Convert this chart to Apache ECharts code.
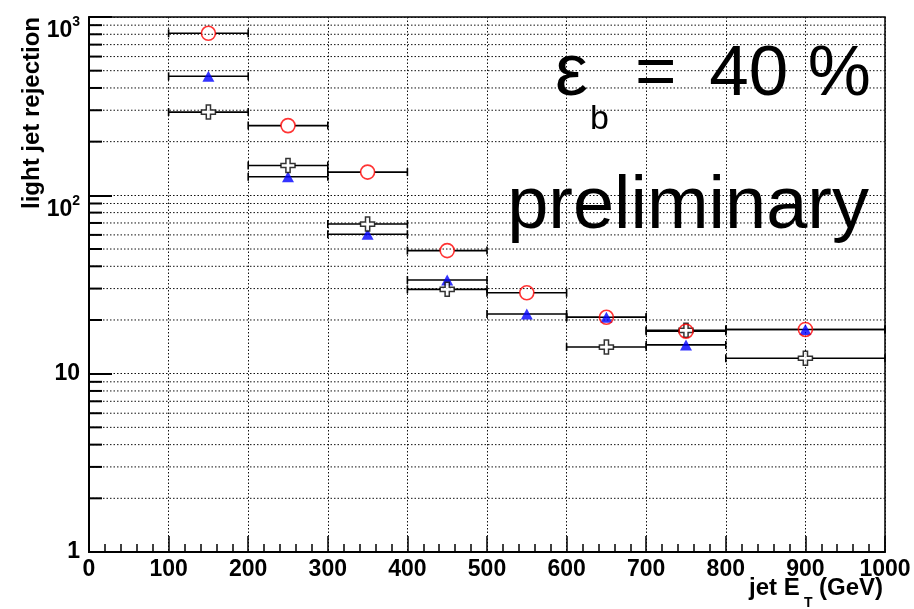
<!DOCTYPE html>
<html><head><meta charset="utf-8">
<script src="https://cdn.jsdelivr.net/npm/echarts@6/dist/echarts.min.js"></script>
<style>html,body{margin:0;padding:0;background:#fff}#c{width:914px;height:609px}</style>
</head><body><div id="c"></div>
<script>
// ---- data ----
const binLow    = [100, 200, 300, 400, 500, 600, 700, 800];
const binHigh   = [200, 300, 400, 500, 600, 700, 800, 1000];
const binCenter = [150, 250, 350, 450, 550, 650, 750, 900];
const redCircle    = [810, 246, 135, 49, 28.4, 20.7, 17.3, 17.7];
const blueTriangle = [465, 127, 60.5, 33.5, 21.6, 20.7, 14.5, 17.7];
const blackCross   = [293, 147, 69, 29.7, null, 14.1, 17.5, 12.2];
const yMinorValues = [2,3,4,5,6,7,8,9,20,30,40,50,60,70,80,90,200,300,400,500,600,700,800,900];
const xTitle = ['jet E', 'T', '(GeV)'];
const yTitle = 'light jet rejection';
const effText = ['\u03b5', 'b', '=', '40 %'];
const prelimText = 'preliminary';

const FONT = '"Liberation Sans", Arial, Helvetica, sans-serif';
const chart = echarts.init(document.getElementById('c'), null, {renderer: 'canvas'});

function errData(vals) {
  const out = [];
  for (let i = 0; i < vals.length; i++) {
    if (vals[i] == null) continue;
    out.push([binLow[i], binHigh[i], vals[i], binCenter[i]]);
  }
  return out;
}
function ptData(vals) {
  const out = [];
  for (let i = 0; i < vals.length; i++) if (vals[i] != null) out.push([binCenter[i], vals[i]]);
  return out;
}
function errSeries(vals, gap) {
  return {
    type: 'custom', data: errData(vals), silent: true, z: 3,
    encode: {x: [0, 1], y: 2},
    renderItem: function (params, api) {
      const y = api.value(2);
      const pL = api.coord([api.value(0), y]);
      const pH = api.coord([api.value(1), y]);
      const pC = api.coord([api.value(3), y]);
      const st = {stroke: '#000', lineWidth: 1.6};
      return {type: 'group', children: [
        {type: 'line', shape: {x1: pL[0], y1: pL[1], x2: pC[0] - gap, y2: pC[1]}, style: st},
        {type: 'line', shape: {x1: pC[0] + gap, y1: pC[1], x2: pH[0], y2: pH[1]}, style: st},
        {type: 'line', shape: {x1: pL[0], y1: pL[1] - 4, x2: pL[0], y2: pL[1] + 4}, style: st},
        {type: 'line', shape: {x1: pH[0], y1: pH[1] - 4, x2: pH[0], y2: pH[1] + 4}, style: st}
      ]};
    }
  };
}

const dotted = [1.5, 2];
const gridColor = '#111';
const crossPath = 'path://M3.5,0 L6.5,0 L6.5,3.5 L10,3.5 L10,6.5 L6.5,6.5 L6.5,10 L3.5,10 L3.5,6.5 L0,6.5 L0,3.5 L3.5,3.5 Z';

function txt(x, y, text, font, align, extra) {
  return Object.assign({type: 'text', x: x, y: y, z: 100,
    style: {text: text, font: font + ' ' + FONT, fill: '#000', align: align, verticalAlign: 'middle', textAlign: align, textVerticalAlign: 'middle'}}, extra || {});
}

const option = {
  backgroundColor: '#fff',
  animation: false,
  grid: {left: 89, right: 29, top: 17, bottom: 57, show: true, borderColor: '#000', borderWidth: 1.5, backgroundColor: '#fff'},
  xAxis: {
    type: 'value', min: 0, max: 1000, interval: 100,
    axisLine: {show: true, lineStyle: {color: '#000', width: 2}},
    axisTick: {show: true, inside: true, length: 16, lineStyle: {color: '#000', width: 1.5}},
    minorTick: {show: true, splitNumber: 5, length: 8, lineStyle: {color: '#000', width: 1.5}},
    splitLine: {show: true, lineStyle: {color: gridColor, width: 1, type: dotted}},
    axisLabel: {color: '#000', fontFamily: FONT, fontWeight: 'bold', fontSize: 23, margin: 6,
      formatter: function (v) { return String(v); }}
  },
  yAxis: {
    type: 'log', logBase: 10, min: 1, max: 1000,
    axisLine: {show: true, lineStyle: {color: '#000', width: 2}},
    axisTick: {show: true, inside: true, length: 23, lineStyle: {color: '#000', width: 2}},
    splitLine: {show: true, lineStyle: {color: gridColor, width: 1, type: dotted}},
    axisLabel: {
      margin: 9, color: '#000',
      formatter: function (v) {
        const e = Math.round(Math.log10(v));
        if (e >= 2) return '{b|10}{s|' + e + '}';
        return '{n|' + Math.round(v) + '}';
      },
      rich: {
        n: {fontFamily: FONT, fontWeight: 'bold', fontSize: 23, color: '#000'},
        b: {fontFamily: FONT, fontWeight: 'bold', fontSize: 23, lineHeight: 23, padding: [14, 0, 0, 0], verticalAlign: 'top', color: '#000'},
        s: {fontFamily: FONT, fontWeight: 'bold', fontSize: 14, lineHeight: 14, padding: [10, 0, 0, 0], verticalAlign: 'top', color: '#000'}
      }
    }
  },
  graphic: [
    txt(32, 17, yTitle, 'bold 24px', 'right', {rotation: Math.PI / 2}),
    txt(749, 588, xTitle[0], 'bold 24px', 'left'),
    txt(804, 603, xTitle[1], 'bold 14px', 'left'),
    txt(819, 588, xTitle[2], 'bold 24px', 'left'),
    txt(555, 75, effText[0], '74px', 'left'),
    txt(590, 120, effText[1], '34px', 'left'),
    txt(635, 75, effText[2], '71px', 'left'),
    txt(871, 75, effText[3], '71px', 'right'),
    txt(869, 208, prelimText, '74px', 'right')
  ],
  series: [
    {
      type: 'custom', silent: true, z: 1,
      data: yMinorValues.map(v => [0, v]),
      encode: {x: 0, y: 1},
      renderItem: function (params, api) {
        const v = api.value(1);
        const p0 = api.coord([0, v]);
        const p1 = api.coord([1000, v]);
        return {type: 'group', children: [
          {type: 'line', shape: {x1: p0[0], y1: p0[1], x2: p1[0], y2: p1[1]}, style: {stroke: gridColor, lineWidth: 1, lineDash: dotted}},
          {type: 'line', shape: {x1: p0[0], y1: p0[1], x2: p0[0] + 13, y2: p0[1]}, style: {stroke: '#000', lineWidth: 2}}
        ]};
      }
    },
    errSeries(blueTriangle, 0),
    errSeries(blackCross, 7),
    errSeries(redCircle, 7),
    {type: 'scatter', name: 'triangle', data: ptData(blueTriangle), z: 5, symbol: 'triangle', symbolSize: [12, 11],
      itemStyle: {color: '#0000ff'}},
    {type: 'scatter', name: 'cross', data: ptData(blackCross), z: 6, symbol: crossPath, symbolSize: [14, 14],
      itemStyle: {color: '#fff', borderColor: '#000', borderWidth: 1.5}},
    {type: 'scatter', name: 'circle', data: ptData(redCircle), z: 7, symbol: 'circle', symbolSize: 14,
      itemStyle: {color: 'rgba(0,0,0,0)', borderColor: '#ff0000', borderWidth: 1.6}}
  ]
};
chart.setOption(option);
</script>
</body></html>
